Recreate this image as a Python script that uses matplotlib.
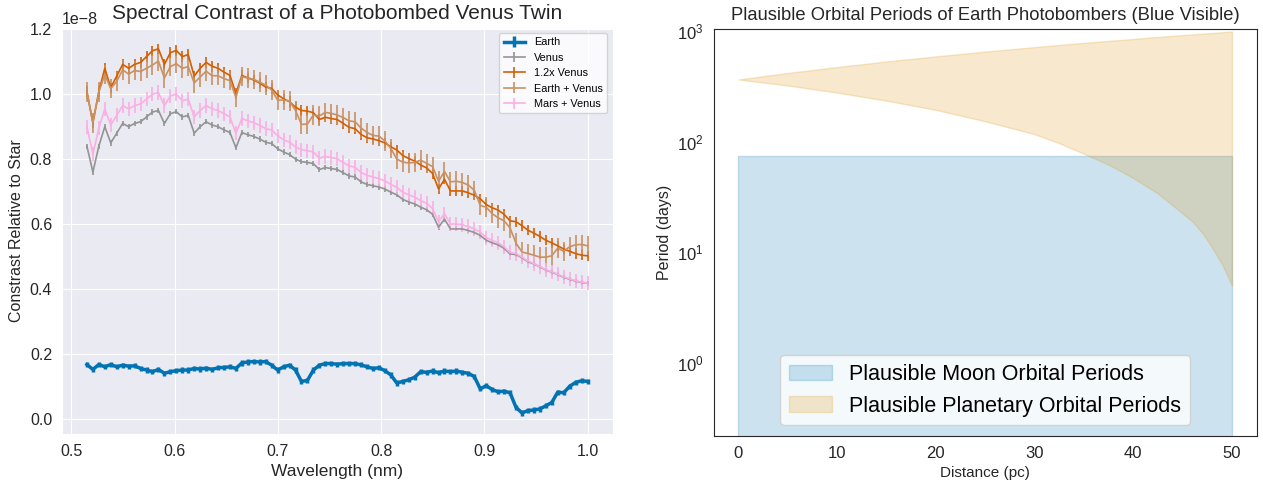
import matplotlib
matplotlib.use("Agg")
import matplotlib.pyplot as plt
import numpy as np
import seaborn as sns

# wavelength grid (nm label in the original, values in microns)
wavelength = np.linspace(0.515, 1.0, 85)

# contrast values in units of 1e-8
earth = [0.167, 0.152, 0.167, 0.160, 0.167, 0.160, 0.165, 0.162, 0.163, 0.155,
         0.150, 0.145, 0.152, 0.140, 0.145, 0.148, 0.150, 0.150, 0.155, 0.153,
         0.156, 0.152, 0.157, 0.158, 0.160, 0.155, 0.172, 0.175, 0.176, 0.175,
         0.176, 0.165, 0.150, 0.160, 0.165, 0.150, 0.115, 0.118, 0.150, 0.165,
         0.170, 0.170, 0.168, 0.170, 0.170, 0.170, 0.166, 0.160, 0.155, 0.157,
         0.148, 0.135, 0.110, 0.115, 0.120, 0.128, 0.145, 0.143, 0.147, 0.142,
         0.147, 0.145, 0.147, 0.143, 0.140, 0.130, 0.092, 0.102, 0.090, 0.083,
         0.085, 0.080, 0.035, 0.018, 0.025, 0.027, 0.030, 0.040, 0.050, 0.082,
         0.080, 0.100, 0.112, 0.117, 0.115]
venus = [0.840, 0.760, 0.840, 0.900, 0.850, 0.880, 0.910, 0.900, 0.910, 0.915,
         0.930, 0.945, 0.950, 0.910, 0.940, 0.946, 0.930, 0.935, 0.880, 0.900,
         0.915, 0.905, 0.900, 0.890, 0.882, 0.835, 0.882, 0.875, 0.870, 0.862,
         0.852, 0.848, 0.832, 0.822, 0.814, 0.800, 0.792, 0.790, 0.786, 0.768,
         0.774, 0.771, 0.768, 0.758, 0.748, 0.745, 0.730, 0.722, 0.718, 0.714,
         0.708, 0.698, 0.690, 0.676, 0.668, 0.662, 0.652, 0.644, 0.630, 0.590,
         0.615, 0.585, 0.585, 0.585, 0.580, 0.574, 0.565, 0.550, 0.542, 0.536,
         0.525, 0.508, 0.506, 0.496, 0.484, 0.477, 0.468, 0.458, 0.452, 0.444,
         0.436, 0.430, 0.424, 0.420, 0.418]
venus_12 = [1.008, 0.912, 1.008, 1.080, 1.020, 1.056, 1.092, 1.080, 1.092, 1.098,
            1.116, 1.134, 1.140, 1.092, 1.128, 1.135, 1.116, 1.122, 1.056, 1.080,
            1.098, 1.086, 1.080, 1.068, 1.058, 1.002, 1.058, 1.050, 1.044, 1.034,
            1.022, 1.018, 0.998, 0.986, 0.977, 0.960, 0.950, 0.948, 0.943, 0.922,
            0.929, 0.925, 0.922, 0.910, 0.898, 0.894, 0.876, 0.866, 0.862, 0.857,
            0.850, 0.838, 0.828, 0.811, 0.802, 0.794, 0.782, 0.773, 0.756, 0.708,
            0.738, 0.702, 0.702, 0.702, 0.696, 0.689, 0.678, 0.660, 0.650, 0.643,
            0.630, 0.610, 0.607, 0.595, 0.581, 0.572, 0.562, 0.550, 0.542, 0.533,
            0.523, 0.516, 0.509, 0.504, 0.502]
earth_venus = [1.007, 0.912, 1.007, 1.060, 1.017, 1.040, 1.075, 1.062, 1.073, 1.070,
               1.080, 1.090, 1.102, 1.050, 1.085, 1.094, 1.080, 1.085, 1.035, 1.053,
               1.071, 1.057, 1.057, 1.048, 1.042, 0.990, 1.054, 1.050, 1.046, 1.037,
               1.028, 1.013, 0.982, 0.982, 0.979, 0.950, 0.907, 0.908, 0.936, 0.933,
               0.944, 0.941, 0.936, 0.928, 0.918, 0.915, 0.896, 0.882, 0.873, 0.871,
               0.856, 0.833, 0.800, 0.791, 0.788, 0.790, 0.797, 0.787, 0.777, 0.732,
               0.762, 0.730, 0.732, 0.728, 0.720, 0.704, 0.657, 0.652, 0.632, 0.619,
               0.610, 0.588, 0.541, 0.514, 0.509, 0.504, 0.498, 0.498, 0.502, 0.526,
               0.516, 0.530, 0.536, 0.537, 0.533]
mars_venus = [0.900, 0.815, 0.895, 0.955, 0.905, 0.935, 0.965, 0.955, 0.965, 0.970,
              0.985, 1.000, 1.005, 0.965, 0.995, 1.000, 0.980, 0.985, 0.930, 0.950,
              0.965, 0.955, 0.950, 0.940, 0.930, 0.880, 0.925, 0.918, 0.912, 0.904,
              0.894, 0.890, 0.872, 0.860, 0.852, 0.838, 0.829, 0.826, 0.822, 0.803,
              0.808, 0.805, 0.801, 0.790, 0.779, 0.775, 0.759, 0.750, 0.745, 0.740,
              0.733, 0.722, 0.713, 0.698, 0.690, 0.683, 0.672, 0.664, 0.648, 0.607,
              0.632, 0.600, 0.600, 0.598, 0.592, 0.585, 0.575, 0.558, 0.550, 0.542,
              0.530, 0.512, 0.509, 0.498, 0.486, 0.478, 0.469, 0.459, 0.453, 0.445,
              0.437, 0.431, 0.425, 0.421, 0.418]
# 1-sigma error per series (units of 1e-8)
errors = [0.008, 0.008, 0.016, 0.03, 0.022]
labels = ["Earth", "Venus", "1.2x Venus", "Earth + Venus", "Mars + Venus"]

# right panel: orbital period bounds vs distance
distance = [0, 5, 10, 15, 20, 25, 30, 32.5, 35, 37.5, 40, 42.5, 45, 46, 47,
            48, 49, 50]
planet_low = [365, 322, 278, 235, 194, 153, 117, 97, 78, 62, 47, 34, 22.5, 19,
              15, 11, 7.8, 5]
planet_high = [365, 418, 473, 531, 590, 652, 716, 749, 782, 815, 849, 884, 919,
               933, 947, 961, 975, 990]
moon_low = [0.01] * len(distance)
moon_high = [75] * len(distance)


def main():
    pal = sns.color_palette("colorblind")
    fonts = ["Liberation Sans", "DejaVu Sans"]
    plt.rcParams["font.family"] = fonts
    plt.rcParams["font.sans-serif"] = fonts
    fig = plt.figure(figsize=(12.63, 4.86), dpi=100)

    with sns.axes_style("darkgrid", {"font.family": fonts, "font.sans-serif": fonts}):
        ax1 = fig.add_axes([0.049, 0.107, 0.436, 0.836])
    series = [earth, venus, venus_12, earth_venus, mars_venus]
    colors = [pal[0], pal[7], pal[3], pal[5], pal[6]]
    for i, ys in enumerate(series):
        lw = 2.5 if i == 0 else 1.2
        ax1.errorbar(wavelength, np.array(ys) * 1e-8, yerr=errors[i] * 1e-8,
                     color=colors[i], lw=lw, elinewidth=lw, label=labels[i])
    ax1.set_ylim(-0.047e-8, 1.205e-8)
    ax1.set_title("Spectral Contrast of a Photobombed Venus Twin", fontsize=15)
    ax1.set_xlabel("Wavelength (nm)", fontsize=12.5)
    ax1.set_ylabel("Constrast Relative to Star", fontsize=11.5)
    ax1.tick_params(labelsize=11.5)
    ax1.yaxis.get_offset_text().set_fontsize(11.5)
    ax1.legend(loc="upper right", fontsize=7.8)

    with sns.axes_style("white", {"font.family": fonts, "font.sans-serif": fonts}):
        ax2 = fig.add_axes([0.565, 0.103, 0.430, 0.838])
    ax2.fill_between(distance, moon_low, moon_high, color=pal[0], alpha=0.2,
                     label="Plausible Moon Orbital Periods")
    ax2.fill_between(distance, planet_low, planet_high, color=pal[1], alpha=0.2,
                     label="Plausible Planetary Orbital Periods")
    ax2.set_yscale("log")
    ax2.set_ylim(0.22, 1050)
    ax2.set_title("Plausible Orbital Periods of Earth Photobombers (Blue Visible)",
                  fontsize=13.2)
    ax2.set_xlabel("Distance (pc)", fontsize=11)
    ax2.set_ylabel("Period (days)", fontsize=11.5)
    ax2.tick_params(labelsize=12)
    ax2.legend(loc="lower center", fontsize=15.5)

    fig.savefig("out.png", dpi=100)


if __name__ == "__main__":
    main()
